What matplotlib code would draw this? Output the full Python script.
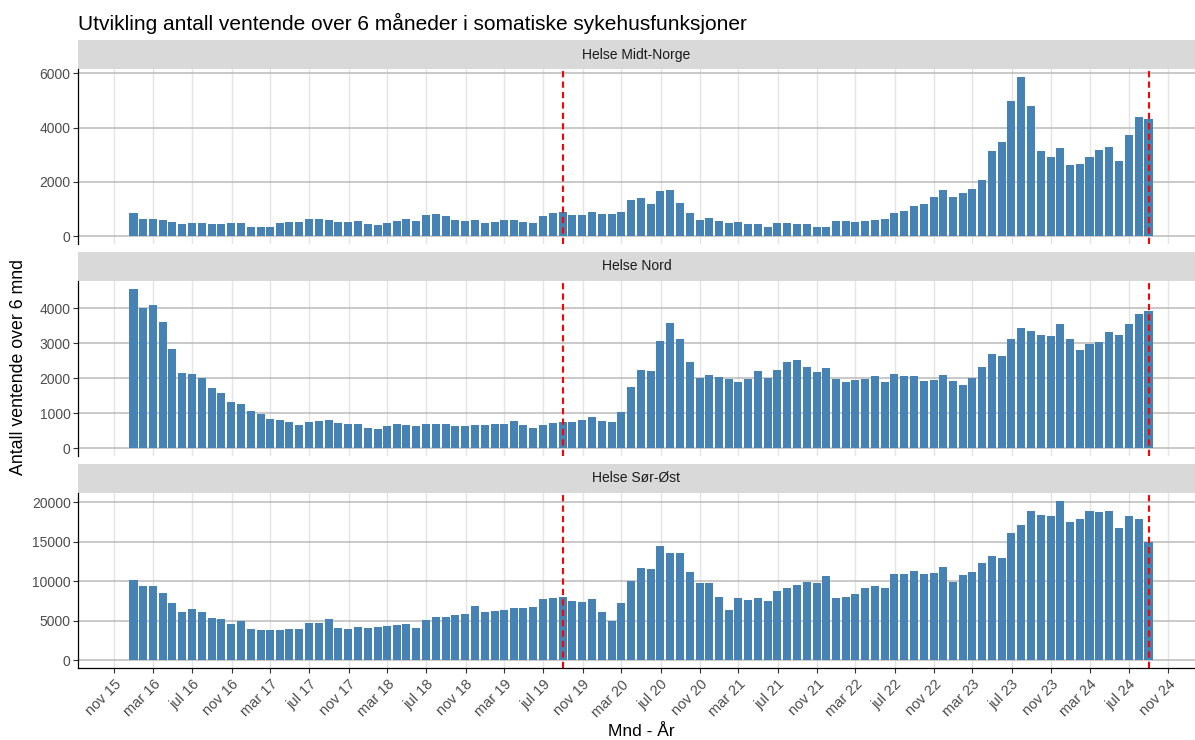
import matplotlib
matplotlib.use("Agg")
import matplotlib.pyplot as plt
import matplotlib.dates as mdates
import pandas as pd

plt.rcParams['font.family'] = ['Liberation Sans', 'DejaVu Sans']

# månedlige verdier, des 2015 - aug 2024 (105 mnd)
dates = pd.date_range('2015-12-31', periods=105, freq='ME')

midt_norge = [852, 642, 642, 605, 519, 432, 469, 469, 432, 432, 469, 469, 346, 346, 346, 469, 519, 519,
              642, 642, 605, 519, 519, 556, 432, 395, 469, 556, 642, 556, 766, 803, 729, 605, 556,
              605, 469, 519, 605, 605, 519, 469, 729, 852, 889, 766, 766, 889, 803, 803, 889, 1346, 1396,
              1186, 1643, 1680, 1223, 852, 605, 679, 556, 469, 519, 432, 432, 346, 469, 469, 432, 432,
              346, 346, 556,
              556, 519, 556, 605, 642, 852, 939, 1099, 1186, 1433, 1680, 1433, 1593, 1717, 2050, 3149,
              3483, 4977, 5866, 4780, 3149, 2902, 3236, 2606, 2655, 2902, 3186, 3273, 2779, 3730, 4397, 4310]

nord = [4554, 4000, 4105, 3618, 2845, 2158, 2129, 2005, 1718, 1585, 1327, 1260, 1069, 974, 840, 811, 745,
        649, 745, 783, 811, 716, 678, 678, 582, 554, 621, 678, 649, 621, 678, 678, 678, 621, 621,
        649, 649, 678, 678, 783, 649, 582, 649, 716, 745, 745, 811, 878, 783, 745, 1041, 1747, 2234,
        2205, 3074, 3590, 3131, 2454, 2005, 2100, 2033, 1976, 1881, 1976, 2205, 2005, 2234, 2454,
        2530, 2329, 2167, 2301, 1976,
        1881, 1938, 1976, 2072, 1881, 2129, 2072, 2072, 1910, 1938, 2100, 1910, 1814, 2005, 2329,
        2683, 2625, 3131, 3427, 3361, 3227, 3198, 3561, 3131, 2816, 2979, 3036, 3332, 3227, 3561,
        3847, 3914]

sor_ost = [10189, 9347, 9347, 8463, 7200, 6063, 6484, 6063, 5347, 5179, 4631, 4926, 3916, 3789, 3789,
           3789, 3916, 3916, 4758, 4758, 5179, 4042, 3916, 4210, 4042, 4210, 4337, 4505, 4631, 4042,
           5052, 5473, 5473, 5768, 5894,
           6904, 6063, 6189, 6315, 6610, 6610, 6778, 7789, 7915, 8041, 7494, 7325, 7789, 6063, 4926,
           7200, 10062, 11620, 11493, 14440, 13598, 13598, 11199, 9767, 9767, 8041, 6357, 7915, 7620,
           7915, 7494, 8757, 9178, 9473, 9894, 9767, 10609, 7915,
           8041, 8336, 9178, 9346, 9178, 10904, 10904, 11325, 10904, 11030, 11746, 9894, 10736, 11199,
           12335, 13177, 12883, 16166, 17177, 18861, 18440, 18314, 20166, 17472, 17893, 18861, 18735,
           18861, 16756, 18314, 17893, 14988]

regions = ['Helse Midt-Norge', 'Helse Nord', 'Helse Sør-Øst']
series = [midt_norge, nord, sor_ost]
y_breaks = [[0, 2000, 4000, 6000], [0, 1000, 2000, 3000, 4000], [0, 5000, 10000, 15000, 20000]]

vline_dates = ['2019-08-31', '2024-08-31']

tick_dates = pd.date_range('2015-11-01', periods=28, freq='4MS')
tick_labels = ['nov 15', 'mar 16', 'jul 16', 'nov 16', 'mar 17', 'jul 17', 'nov 17', 'mar 18',
               'jul 18', 'nov 18', 'mar 19', 'jul 19', 'nov 19', 'mar 20', 'jul 20', 'nov 20',
               'mar 21', 'jul 21', 'nov 21', 'mar 22', 'jul 22', 'nov 22', 'mar 23', 'jul 23',
               'nov 23', 'mar 24', 'jul 24', 'nov 24']

W, H = 1195, 740
fig = plt.figure(figsize=(W / 100, H / 100), dpi=100)


def px_axes(left, top, width, height):
    return fig.add_axes([left / W, 1 - (top + height) / H, width / W, height / H])


x = mdates.date2num(dates)
xt = mdates.date2num(tick_dates)
xmin = mdates.date2num(pd.Timestamp('2015-11-01')) - 113
xmax = mdates.date2num(pd.Timestamp('2024-11-01')) + 83

left, width = 78, 1117
strip_h, panel_h, gap = 29, 175, 8
top = 40

for k, (name, vals) in enumerate(zip(regions, series)):
    # strip med navn
    s = px_axes(left, top, width, strip_h)
    s.set_facecolor('#d9d9d9')
    s.set_xticks([])
    s.set_yticks([])
    for sp in s.spines.values():
        sp.set_visible(False)
    s.text(0.5, 0.5, name, ha='center', va='center', fontsize=10, color='#1a1a1a',
           transform=s.transAxes)
    top += strip_h

    ax = px_axes(left, top, width, panel_h)
    ax.bar(x, vals, width=25.2, color='#4682B4', linewidth=0)
    for d in vline_dates:
        ax.axvline(mdates.date2num(pd.Timestamp(d)), color='red', linestyle=(0, (3, 2)), lw=1.5)

    ymax = max(vals)
    ax.set_ylim(-0.05 * ymax, 1.05 * ymax)
    ax.set_xlim(xmin, xmax)
    ax.set_yticks(y_breaks[k])
    ax.set_yticklabels([str(v) for v in y_breaks[k]])
    ax.set_xticks(xt)
    ax.set_axisbelow(True)
    ax.xaxis.grid(True, color='#e4e4e4', lw=1)
    ax.yaxis.grid(True, color='#bababa', lw=1.1)

    for sp in ['top', 'right']:
        ax.spines[sp].set_visible(False)
    ax.spines['left'].set_color('black')
    ax.spines['left'].set_linewidth(0.9)
    ax.tick_params(axis='y', labelsize=10, labelcolor='#4d4d4d', color='#333333', length=3.3,
                   width=0.8, pad=2)

    if k < 2:
        ax.spines['bottom'].set_visible(False)
        ax.tick_params(axis='x', length=0, labelbottom=False)
    else:
        ax.spines['bottom'].set_color('black')
        ax.spines['bottom'].set_linewidth(0.9)
        ax.set_xticklabels(tick_labels, rotation=45, ha='right', rotation_mode='anchor')
        ax.tick_params(axis='x', labelsize=10.5, labelcolor='#4d4d4d', color='#333333',
                       length=3.3, width=0.8)

    top += panel_h + gap

fig.text(78 / W, 1 - 30 / H, 'Utvikling antall ventende over 6 måneder i somatiske sykehusfunksjoner',
         ha='left', va='baseline', fontsize=15, color='black')
fig.text(19 / W, 1 - 367 / H, 'Antall ventende over 6 mnd', rotation=90, ha='center', va='center',
         fontsize=12.8)
fig.text(641 / W, 1 - 731 / H, 'Mnd - År', ha='center', va='center', fontsize=12.5)

fig.savefig('out.png', dpi=100)
